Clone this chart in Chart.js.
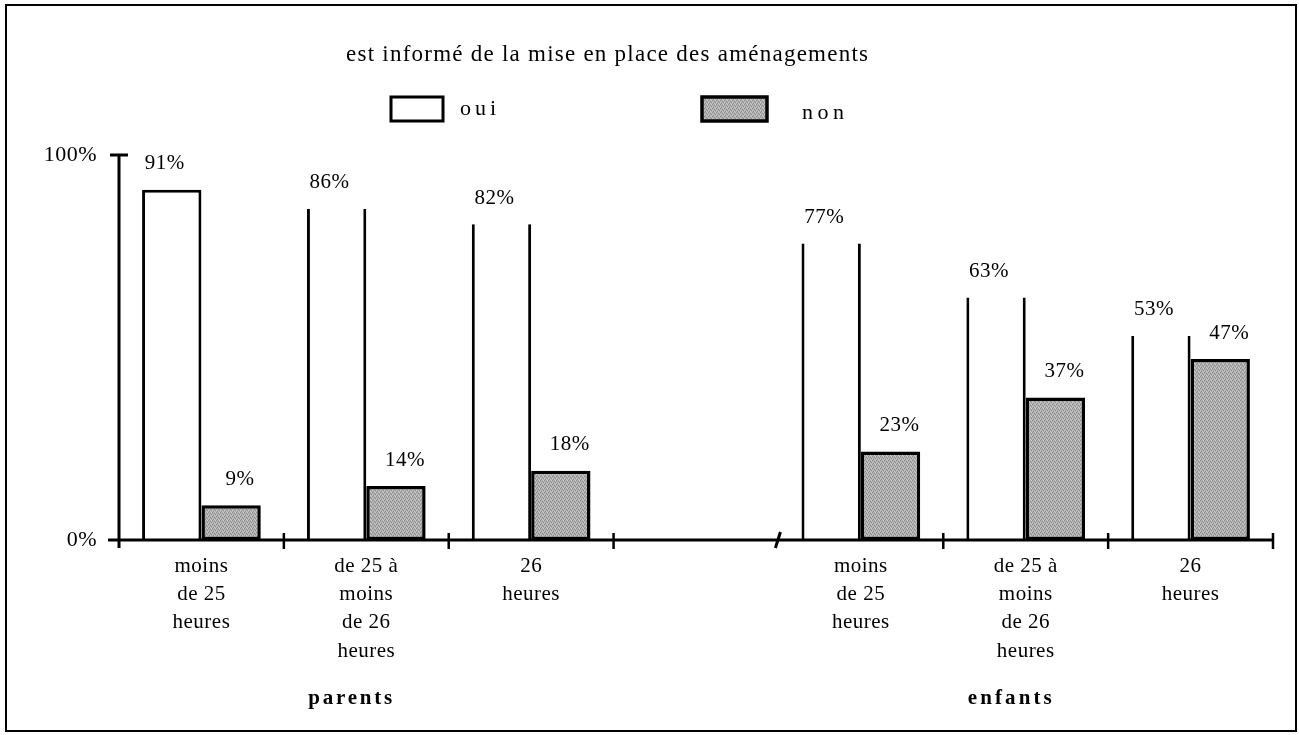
<!DOCTYPE html>
<html><head><meta charset="utf-8">
<script src="https://cdn.jsdelivr.net/npm/chart.js@4.4.1/dist/chart.umd.min.js"></script>
<style>html,body{margin:0;padding:0;background:#fff;}canvas{display:block;}</style>
</head><body>
<canvas id="c" width="1299" height="735"></canvas>
<script>
const chartTitle = "est informé de la mise en place des aménagements";
const categories = [
  ["moins","de 25","heures"],
  ["de 25 à","moins","de 26","heures"],
  ["26","heures"],
  "",
  ["moins","de 25","heures"],
  ["de 25 à","moins","de 26","heures"],
  ["26","heures"]
];
const groupLabels = ["parents", "enfants"];
const groupCenterIndex = [1, 5];
const seriesNames = ["oui", "non"];
const ouiValues = [91, 86, 82, null, 77, 63, 53];
const nonValues = [9, 14, 18, null, 23, 37, 47];
const yTickValues = [0, 100];

const SERIF = "'Liberation Serif', 'Times New Roman', serif";
const canvas = document.getElementById('c');
const ctx0 = canvas.getContext('2d');

function stipple() {
  const c = document.createElement('canvas'); c.width = 4; c.height = 4;
  const x = c.getContext('2d');
  x.fillStyle = '#b0b0b0'; x.fillRect(0,0,4,4);
  x.fillStyle = '#8c8c8c';
  [[0,0],[2,1],[1,3],[3,2]].forEach(([a,b]) => x.fillRect(a,b,1,1));
  x.fillStyle = '#cbcbcb';
  [[2,3],[0,2],[3,0]].forEach(([a,b]) => x.fillRect(a,b,1,1));
  return ctx0.createPattern(c, 'repeat');
}
const greyFill = stipple();

function spacedText(ctx, text, x, y, targetWidth, font, align) {
  ctx.save();
  ctx.font = font;
  ctx.letterSpacing = '0px';
  const w = ctx.measureText(text).width;
  const ls = targetWidth ? (targetWidth - w) / (text.length - 1) : 0;
  ctx.letterSpacing = ls + 'px';
  const total = w + ls * (text.length - 1);
  ctx.textAlign = 'left';
  let sx = x;
  if (align === 'center') sx = x - total / 2;
  ctx.fillText(text, sx, y);
  ctx.restore();
}

const decor = {
  id: 'decor',
  beforeDraw(chart) {
    chart.ctx.letterSpacing = '0.5px';
  },
  afterDatasetsDraw(chart) {
    const ctx = chart.ctx;
    const xs = chart.scales.x, ys = chart.scales.y;
    const y0 = ys.getPixelForValue(0), y100 = ys.getPixelForValue(100);
    const left = chart.chartArea.left, right = chart.chartArea.right;
    ctx.save();
    ctx.strokeStyle = '#000'; ctx.lineCap = 'butt';
    ctx.lineWidth = 3;
    ctx.beginPath(); ctx.moveTo(left, y100); ctx.lineTo(left, y0 + 8); ctx.stroke();
    ctx.beginPath(); ctx.moveTo(left - 9, y100); ctx.lineTo(left + 9, y100); ctx.stroke();
    ctx.lineWidth = 3;
    ctx.beginPath(); ctx.moveTo(left - 11, y0); ctx.lineTo(right, y0); ctx.stroke();
    const n = categories.length;
    for (let i = 0; i < n; i++) {
      const bx = i < n - 1 ? (xs.getPixelForValue(i) + xs.getPixelForValue(i + 1)) / 2 : right;
      ctx.beginPath();
      if (i === 3) { ctx.lineWidth = 3; ctx.moveTo(bx - 3, y0 + 8); ctx.lineTo(bx + 2, y0 - 8); }
      else { ctx.lineWidth = 2.5; ctx.moveTo(bx, y0 - 7); ctx.lineTo(bx, y0 + 9); }
      ctx.stroke();
    }
    ctx.fillStyle = '#000';
    ctx.font = '21px ' + SERIF;
    ctx.letterSpacing = '0.5px';
    ctx.textAlign = 'center'; ctx.textBaseline = 'middle';
    chart.data.datasets.forEach((ds, di) => {
      const meta = chart.getDatasetMeta(di);
      meta.data.forEach((el, i) => {
        const v = ds.data[i];
        if (v === null || v === undefined) return;
        ctx.fillText(v + '%', el.x + (di === 0 ? -7 : 9), el.y - 26);
      });
    });
    ctx.restore();
  },
  afterDraw(chart) {
    const ctx = chart.ctx;
    const xs = chart.scales.x;
    ctx.save();
    ctx.fillStyle = '#000'; ctx.strokeStyle = '#000';
    ctx.textBaseline = 'alphabetic';
    ctx.lineWidth = 2;
    ctx.strokeRect(6, 5, 1290, 726);
    spacedText(ctx, chartTitle, 607, 61, 522, '23px ' + SERIF, 'center');
    const ds = chart.data.datasets;
    ctx.lineWidth = 3;
    ctx.fillStyle = '#fff';
    ctx.fillRect(391, 97, 52, 24);
    ctx.strokeRect(391, 97, 52, 24);
    ctx.fillStyle = greyFill;
    ctx.fillRect(702, 97, 65, 24);
    ctx.lineWidth = 3.5;
    ctx.strokeRect(702, 97, 65, 24);
    ctx.fillStyle = '#000';
    spacedText(ctx, ds[0].label, 460, 115, 36, '22px ' + SERIF, 'left');
    spacedText(ctx, ds[1].label, 802, 119, 42, '22px ' + SERIF, 'left');
    groupLabels.forEach((g, k) => {
      const cx = xs.getPixelForValue(groupCenterIndex[k]) - 16;
      spacedText(ctx, g, cx, 704, 84, 'bold 21px ' + SERIF, 'center');
    });
    ctx.restore();
  }
};

new Chart(canvas, {
  type: 'bar',
  data: {
    labels: categories,
    datasets: [
      {
        label: seriesNames[0],
        data: ouiValues,
        backgroundColor: '#ffffff',
        borderColor: '#000000',
        borderWidth: (c) => c.dataIndex === 0
          ? {top: 3, left: 3, right: 3, bottom: 0}
          : {top: 0, left: 3, right: 3, bottom: 0},
        borderSkipped: 'start',
        categoryPercentage: 0.72,
        barPercentage: 1.0
      },
      {
        label: seriesNames[1],
        data: nonValues,
        backgroundColor: greyFill,
        borderColor: '#000000',
        borderWidth: 3.5,
        borderSkipped: false,
        categoryPercentage: 0.72,
        barPercentage: 1.0
      }
    ]
  },
  options: {
    responsive: false,
    animation: false,
    events: [],
    layout: { padding: { top: 155, left: 0, right: 26, bottom: 0 } },
    plugins: { legend: { display: false }, title: { display: false }, tooltip: { enabled: false } },
    scales: {
      x: {
        grid: { display: false, drawTicks: false },
        border: { display: false },
        ticks: {
          color: '#000', font: { family: SERIF, size: 21, lineHeight: 1.35 },
          padding: 12, maxRotation: 0, minRotation: 0, autoSkip: false
        },
        afterFit: (s) => { s.height = 195; }
      },
      y: {
        min: 0, max: 100,
        afterBuildTicks: (s) => { s.ticks = yTickValues.map(v => ({ value: v })); },
        grid: { display: false, drawTicks: false },
        border: { display: false },
        ticks: {
          color: '#000', font: { family: SERIF, size: 22 }, padding: 22,
          callback: (v) => v + '%'
        },
        afterFit: (s) => { s.width = 119; }
      }
    }
  },
  plugins: [decor]
});
</script>
</body></html>
